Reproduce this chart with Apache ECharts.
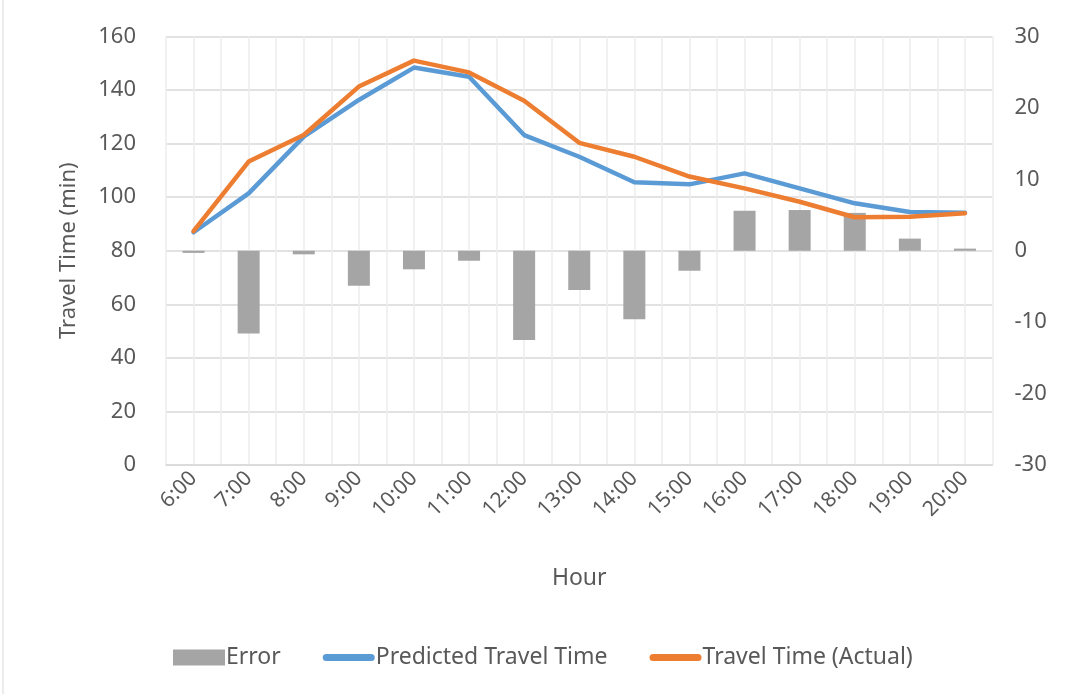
<!DOCTYPE html>
<html>
<head>
<meta charset="utf-8">
<script src="https://cdn.jsdelivr.net/npm/echarts@6/dist/echarts.min.js"></script>
<style>
  html, body { margin: 0; padding: 0; background: #fff; }
  #chart { width: 1069px; height: 694px; }
</style>
</head>
<body>
<div id="chart"></div>
<script>
var hours = ["6:00","7:00","8:00","9:00","10:00","11:00","12:00","13:00","14:00","15:00","16:00","17:00","18:00","19:00","20:00"];
var errorVals = [-0.3, -11.6, -0.5, -4.9, -2.6, -1.4, -12.5, -5.5, -9.6, -2.8, 5.6, 5.7, 5.3, 1.7, 0.3];
var predicted = [86.9, 101.4, 122.6, 136.3, 148.4, 145.0, 123.2, 115.1, 105.6, 104.8, 108.9, 103.3, 97.7, 94.5, 94.2];
var actual = [87.3, 113.3, 123.2, 141.3, 151.0, 146.6, 136.0, 120.3, 115.1, 107.7, 103.3, 98.3, 92.5, 92.7, 94.0];

var textColor = "#595959";
var font = "'Noto Sans', sans-serif";
// thin rounded bar for the line entries of the legend
var lineIcon = "path://M3.5,0 L48.5,0 A3.5,3.5 0 0 1 48.5,7 L3.5,7 A3.5,3.5 0 0 1 3.5,0 Z";

var myChart = echarts.init(document.getElementById("chart"));

var option = {
    backgroundColor: "#fff",
    textStyle: { fontFamily: font, color: textColor },
    graphic: [{
        type: "rect",
        shape: { x: 3, y: -5, width: 1100, height: 720 },
        style: { fill: "none", stroke: "#d9d9d9", lineWidth: 1 },
        silent: true
    }],
    grid: {
        left: 166,
        right: 76.5,
        top: 36.5,
        bottom: 229
    },
    legend: {
        bottom: 20,
        left: 168,
        itemGap: 42,
        itemWidth: 52,
        itemHeight: 16,
        symbolKeepAspect: true,
        textStyle: { fontSize: 23, color: textColor, fontFamily: font, padding: [0, 0, 0, -4] },
        data: [
            { name: "Error", icon: "rect" },
            { name: "Predicted Travel Time", icon: lineIcon },
            { name: "Travel Time (Actual)", icon: lineIcon }
        ]
    },
    xAxis: [{
        type: "category",
        data: hours,
        name: "Hour",
        nameLocation: "middle",
        nameGap: 102,
        nameTextStyle: { fontSize: 23, color: textColor },
        axisLine: { lineStyle: { color: "#d9d9d9", width: 1.5 } },
        axisTick: { show: false },
        axisLabel: { rotate: 45, fontSize: 21, color: textColor, margin: 10 },
        splitLine: { show: false }
    }, {
        type: "value",
        min: -0.5,
        max: 14.5,
        interval: 0.5,
        position: "bottom",
        axisLine: { show: false },
        axisTick: { show: false },
        axisLabel: { show: false },
        splitLine: { show: true, lineStyle: { color: "#ececec", width: 1.5 } }
    }],
    yAxis: [{
        type: "value",
        min: 0,
        max: 160,
        interval: 20,
        name: "Travel Time (min)",
        nameLocation: "middle",
        nameGap: 86,
        nameTextStyle: { fontSize: 22, color: textColor },
        axisLine: { show: false },
        axisTick: { show: false },
        axisLabel: { fontSize: 22, color: textColor, margin: 30 },
        splitLine: { lineStyle: { color: "#d9d9d9", width: 1.5 } }
    }, {
        type: "value",
        min: -30,
        max: 30,
        interval: 10,
        position: "right",
        axisLine: { show: false },
        axisTick: { show: false },
        axisLabel: { fontSize: 22, color: textColor, margin: 22 },
        splitLine: { show: false }
    }],
    series: [{
        name: "Error",
        type: "bar",
        xAxisIndex: 0,
        yAxisIndex: 1,
        barWidth: 22,
        itemStyle: { color: "#a5a5a5" },
        data: errorVals
    }, {
        name: "Predicted Travel Time",
        type: "line",
        xAxisIndex: 0,
        yAxisIndex: 0,
        showSymbol: false,
        symbol: "none",
        lineStyle: { color: "#5b9bd5", width: 4.5, cap: "round", join: "round" },
        itemStyle: { color: "#5b9bd5" },
        data: predicted
    }, {
        name: "Travel Time (Actual)",
        type: "line",
        xAxisIndex: 0,
        yAxisIndex: 0,
        showSymbol: false,
        symbol: "none",
        lineStyle: { color: "#ed7d31", width: 4.5, cap: "round", join: "round" },
        itemStyle: { color: "#ed7d31" },
        data: actual
    }]
};

myChart.setOption(option);
window.onresize = myChart.resize;
</script>
</body>
</html>
